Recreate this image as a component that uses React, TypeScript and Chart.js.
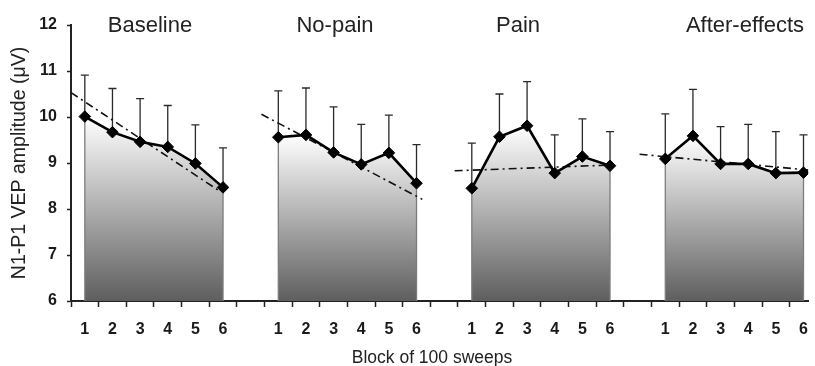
import React, { useEffect, useRef } from 'react';
import { Chart, registerables } from 'chart.js';

Chart.register(...registerables);

// ---------- data ----------
const blockLabels = ['1', '2', '3', '4', '5', '6'];
const groupNames = ['Baseline', 'No-pain', 'Pain', 'After-effects'];

const baselineMean = [10.01, 9.67, 9.46, 9.35, 8.99, 8.47];
const baselineSd = [0.9, 0.95, 0.94, 0.9, 0.84, 0.86];
const noPainMean = [9.56, 9.61, 9.23, 8.97, 9.22, 8.56];
const noPainSd = [1.01, 1.02, 0.99, 0.87, 0.82, 0.84];
const painMean = [8.45, 9.57, 9.81, 8.78, 9.14, 8.94];
const painSd = [0.98, 0.93, 0.96, 0.83, 0.82, 0.74];
const afterMean = [9.09, 9.59, 8.98, 8.98, 8.78, 8.79];
const afterSd = [0.98, 1.01, 0.81, 0.86, 0.9, 0.82];

// trend lines (block index, 0 = block 1) and value at both ends
const trendStartBlock = [-0.5, -0.61, -0.62, -0.93];
const trendStartValue = [10.53, 10.06, 8.83, 9.19];
const trendEndBlock = [4.9, 5.21, 5.18, 6.2];
const trendEndValue = [8.38, 8.21, 8.96, 8.79];

const yTicks = [6, 7, 8, 9, 10, 11, 12];
const xAxisTitle = 'Block of 100 sweeps';
const yAxisTitle = 'N1-P1 VEP amplitude (\u03bcV)';

// ---------- layout ----------
const STRIDE = 7; // 6 blocks + 1 empty slot
const X_MIN = -0.5;
const X_MAX = 26.17;
const Y_MIN = 6;
const Y_MAX = 12;
const FONT = "'Liberation Sans', Arial, Helvetica, sans-serif";
const titleCenters = [150, 335, 518, 745];

export default function App() {
  const ref = useRef<HTMLCanvasElement>(null);

  useEffect(() => {
    if (!ref.current) return;
    Chart.defaults.font.family = FONT;
    const means = [baselineMean, noPainMean, painMean, afterMean];
    const sds = [baselineSd, noPainSd, painSd, afterSd];
    const xOf = (g: number, b: number) => g * STRIDE + b;

    const lineSets = means.map((m, g) => ({
      type: 'line' as const,
      label: groupNames[g],
      data: m.map((v, i) => ({ x: xOf(g, i), y: v })),
      borderColor: '#000',
      borderWidth: 2.6,
      pointStyle: 'rectRot',
      pointRadius: 5.8,
      pointBackgroundColor: '#000',
      pointBorderColor: '#000',
      pointBorderWidth: 1,
      fill: false,
      tension: 0,
    }));

    const trendSets = means.map((_, g) => ({
      type: 'line' as const,
      label: groupNames[g] + ' trend',
      data: [
        { x: xOf(g, trendStartBlock[g]), y: trendStartValue[g] },
        { x: xOf(g, trendEndBlock[g]), y: trendEndValue[g] },
      ],
      borderColor: '#111',
      borderWidth: 1.6,
      borderDash: [8, 4, 2, 4],
      pointRadius: 0,
      fill: false,
    }));

    const areaSets = means.map((m, g) => ({
      type: 'line' as const,
      label: groupNames[g] + ' area',
      data: [
        { x: xOf(g, 0), y: Y_MIN },
        ...m.map((v, i) => ({ x: xOf(g, i), y: v })),
        { x: xOf(g, m.length - 1), y: Y_MIN },
      ],
      borderColor: '#7c7c7c',
      borderWidth: 1.3,
      pointRadius: 0,
      fill: 'start',
      backgroundColor: (ctx: any) => {
        const chart = ctx.chart;
        const area = chart.chartArea;
        if (!area) return 'rgba(0,0,0,0)';
        const top = chart.scales.y.getPixelForValue(Math.max(...m));
        const grad = chart.ctx.createLinearGradient(0, top, 0, area.bottom);
        grad.addColorStop(0, '#ffffff');
        grad.addColorStop(1, '#5e5e5e');
        return grad;
      },
    }));

    const errorBars = {
      id: 'errorBars',
      beforeDatasetsDraw(chart: any) {
        const { ctx, scales } = chart;
        const x = scales.x;
        const y = scales.y;
        ctx.save();
        ctx.strokeStyle = '#2a2a2a';
        ctx.lineWidth = 1.3;
        means.forEach((m, g) =>
          m.forEach((v, i) => {
            const px = x.getPixelForValue(xOf(g, i));
            const py = y.getPixelForValue(v);
            const pt = y.getPixelForValue(v + sds[g][i]);
            ctx.beginPath();
            ctx.moveTo(px, py);
            ctx.lineTo(px, pt);
            ctx.moveTo(px - 4, pt);
            ctx.lineTo(px + 4, pt);
            ctx.stroke();
          })
        );
        ctx.restore();
      },
    };

    const chart = new Chart(ref.current, {
      type: 'line',
      data: { datasets: [...lineSets, ...trendSets, ...areaSets] as any },
      options: {
        responsive: false,
        animation: false,
        layout: { padding: { top: 25, left: 0, right: 0, bottom: 0 } },
        plugins: { legend: { display: false }, tooltip: { enabled: false } },
        scales: {
          x: {
            type: 'linear',
            min: X_MIN,
            max: X_MAX,
            z: 1,
            afterBuildTicks: (scale: any) => {
              const t = [];
              for (let v = X_MIN; v <= X_MAX; v += 0.5) t.push({ value: v });
              scale.ticks = t;
            },
            afterFit: (scale: any) => {
              scale.height = 65;
              scale.paddingLeft = 0;
              scale.paddingRight = 0;
            },
            ticks: {
              autoSkip: false,
              maxRotation: 0,
              padding: 13,
              color: '#1a1a1a',
              font: { size: 16, weight: 'bold' },
              callback: (value: any) => {
                const v = Number(value);
                if (!Number.isInteger(v)) return '';
                const b = v % STRIDE;
                return b < blockLabels.length ? blockLabels[b] : '';
              },
            },
            grid: {
              drawOnChartArea: false,
              drawTicks: true,
              tickLength: 6,
              tickWidth: 1.5,
              tickColor: (ctx: any) =>
                ctx.tick && Number.isInteger(ctx.tick.value) ? 'rgba(0,0,0,0)' : '#222',
            },
            border: { display: true, color: '#222', width: 2 },
          },
          y: {
            type: 'linear',
            min: Y_MIN,
            max: Y_MAX,
            afterBuildTicks: (scale: any) => {
              scale.ticks = yTicks.map((v) => ({ value: v }));
            },
            afterFit: (scale: any) => {
              scale.width = 71;
            },
            ticks: {
              padding: 10,
              color: '#1a1a1a',
              font: { size: 16, weight: 'bold' },
            },
            grid: {
              drawOnChartArea: false,
              drawTicks: true,
              tickLength: 4,
              tickWidth: 1.5,
              tickColor: '#222',
            },
            border: { display: true, color: '#222', width: 2 },
            title: {
              display: true,
              text: yAxisTitle,
              color: '#222',
              font: { size: 19.5, weight: 'normal' },
              padding: { top: 8, bottom: 0 },
            },
          },
        },
      } as any,
      plugins: [errorBars],
    });
    return () => chart.destroy();
  }, []);

  return (
    <div style={{ position: 'absolute', left: 0, top: 0, width: 815, height: 366, overflow: 'hidden', background: '#fff' }}>
      <canvas ref={ref} width={815} height={366} style={{ display: 'block' }} />
      {groupNames.map((name, g) => (
        <div
          key={name}
          style={{
            position: 'absolute',
            left: titleCenters[g],
            top: 14,
            transform: 'translateX(-50%)',
            font: `22px ${FONT}`,
            lineHeight: '22px',
            color: '#222',
            whiteSpace: 'nowrap',
          }}
        >
          {name}
        </div>
      ))}
      <div
        style={{
          position: 'absolute',
          left: 432,
          top: 349,
          transform: 'translateX(-50%)',
          font: `17.5px ${FONT}`,
          lineHeight: '17.5px',
          color: '#222',
          whiteSpace: 'nowrap',
        }}
      >
        {xAxisTitle}
      </div>
    </div>
  );
}
